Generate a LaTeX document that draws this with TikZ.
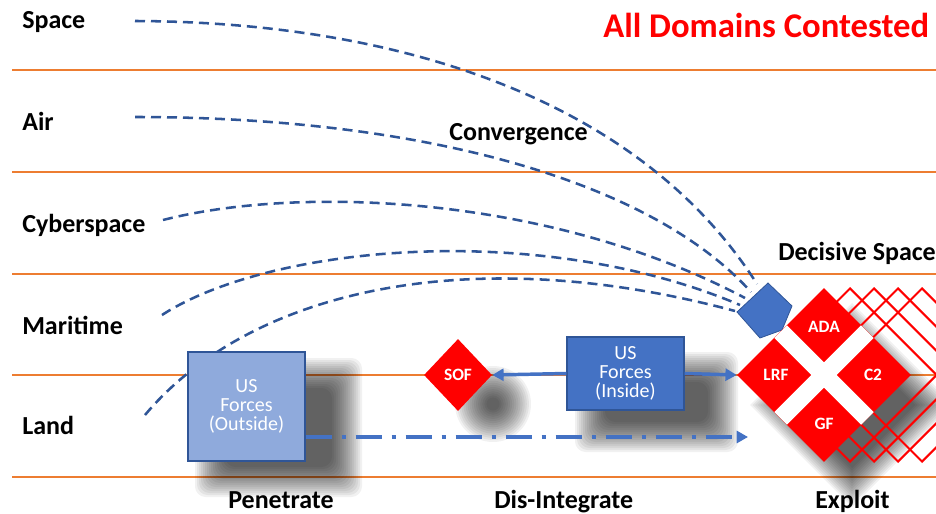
\documentclass[tikz,border=0pt]{standalone}
\usepackage{fontspec}
\setmainfont{Carlito}
\usetikzlibrary{arrows.meta,shapes.geometric}
\definecolor{orng}{RGB}{237,125,49}
\definecolor{dkblue}{RGB}{47,85,151}
\definecolor{mblue}{RGB}{68,114,196}
\definecolor{lblue}{RGB}{143,170,220}
\definecolor{rd}{RGB}{255,0,0}
\begin{document}
\begin{tikzpicture}[x=0.75pt,y=-0.75pt,
  band/.style={orng,line width=1.4pt},
  dom/.style={font=\bfseries\fontsize{19.5}{22}\selectfont,anchor=base west,inner sep=0},
  conv/.style={dkblue,line width=1.9pt,dash pattern=on 7.5pt off 4.5pt},
  boxtext/.style={text=white,font=\fontsize{15}{14}\selectfont,align=center,inner sep=0},
  bluearrow/.style={mblue,line width=2.6pt,-{Triangle[length=8.5pt,width=9pt]}},
  dashdot/.style={mblue,line width=2.6pt,dash pattern=on 19.5pt off 7.5pt on 3pt off 7.5pt,-{Triangle[length=8.5pt,width=9pt]}},
  redtag/.style={text=white,font=\bfseries\fontsize{13}{13}\selectfont,inner sep=0},
  ghost/.style={diamond,draw=rd,line width=1.5pt,minimum width=130.5pt,minimum height=130.5pt,inner sep=0},
  shade/.style={black,opacity=0.055}]
\useasboundingbox (0,0) rectangle (936,514);
\fill[white] (0,0) rectangle (936,514);
% bands
\foreach \yy in {70,172,274,375,477}{\draw[band] (12,\yy) -- (936,\yy);}
% soft shadows
\foreach \k in {0,...,15}{
  \fill[shade,rounded corners=8pt] ({195+2*\k},{358+2*\k}) rectangle ({362-2*\k},{497-2*\k});
  \fill[shade,rounded corners=8pt] ({575+2*\k},{352+2*\k}) rectangle ({738-2*\k},{452-2*\k});
  \fill[shade] (493,404) circle ({38-2.1*\k});
  \fill[shade] ({852-102+2.6*\k},405) -- (852,{405-102+2.6*\k}) -- ({852+102-2.6*\k},405) -- (852,{405+102-2.6*\k}) -- cycle;
}
% domain labels
\node[dom] (space) at (22,28) {Space};
\node[dom] (air) at (22,130) {Air};
\node[dom] (cyber) at (22,232) {Cyberspace};
\node[dom] (mari) at (22,334) {Maritime};
\node[dom] (land) at (22,434) {Land};
\node[dom] (conv) at (449,140) {Convergence};
\node[dom] (decisive) at (778,260) {Decisive Space};
\node[dom] (pen) at (228,508) {Penetrate};
\node[dom] (disint) at (494,508) {Dis-Integrate};
\node[dom] (expl) at (815,508) {Exploit};
\node[anchor=base west,inner sep=0,text=rd,font=\bfseries\fontsize{26}{30}\selectfont] (title) at (603,37) {All Domains Contested};
% convergence curves
\coordinate (s1) at (135,21);  \coordinate (e1) at (757,284);
\coordinate (s2) at (135,117); \coordinate (e2) at (751,292);
\coordinate (s3) at (163,220); \coordinate (e3) at (745,298);
\coordinate (s4) at (162,315); \coordinate (e4) at (740,305);
\coordinate (s5) at (145,415); \coordinate (e5) at (735,311);
\draw[conv] (s1) .. controls (400,22) and (640,100) .. (e1);
\draw[conv] (s2) .. controls (420,117) and (650,180) .. (e2);
\draw[conv] (s3) .. controls (300,185) and (550,195) .. (e3);
\draw[conv] (s4) .. controls (270,245) and (540,220) .. (e4);
\draw[conv] (s5) .. controls (250,290) and (470,240) .. (e5);
% decisive space marker
\filldraw[fill=mblue,draw=dkblue,line width=0.6pt] (737,312) -- (768,283) -- (792,306) -- (782,330) -- (760,338) -- cycle;
% ghost diamonds
\node[ghost] (g1) at (850,375) {};
\node[ghost] (g2) at (874,375) {};
\node[ghost] (g3) at (898,375) {};
\node[ghost] (g4) at (922,375) {};
% main diamond
\node[diamond,fill=rd,minimum width=130.5pt,minimum height=130.5pt,inner sep=0] (big) at (824,375) {};
\node[fill=white,minimum width=92pt,minimum height=13.5pt,inner sep=0,rotate=45] (barA) at (824,375) {};
\node[fill=white,minimum width=92pt,minimum height=13.5pt,inner sep=0,rotate=-45] (barB) at (824,375) {};
\node[redtag] (ada) at (824,327) {ADA};
\node[redtag] (lrf) at (776,375) {LRF};
\node[redtag] (c2) at (873,375) {C2};
\node[redtag] (gf) at (824,424) {GF};
% SOF
\node[diamond,fill=rd,minimum width=51pt,minimum height=54pt,inner sep=0,redtag] (sof) at (458,375) {SOF};
% boxes
\node[draw=dkblue,fill=lblue,line width=1pt,minimum width=87.75pt,minimum height=81.75pt,boxtext] (outside) at (246.5,406.5) {US\\Forces\\(Outside)};
\node[draw=dkblue,fill=mblue,line width=1pt,minimum width=87.75pt,minimum height=54.75pt,boxtext] (inside) at (625.5,373.5) {US\\Forces\\(Inside)};
% arrows
\draw[bluearrow] (inside.west) -- (sof.east);
\draw[bluearrow] (inside.east) -- (big.west);
\coordinate (ddend) at (748,437);
\draw[dashdot] (outside.east |- ddend) -- (ddend);
\end{tikzpicture}
\end{document}
